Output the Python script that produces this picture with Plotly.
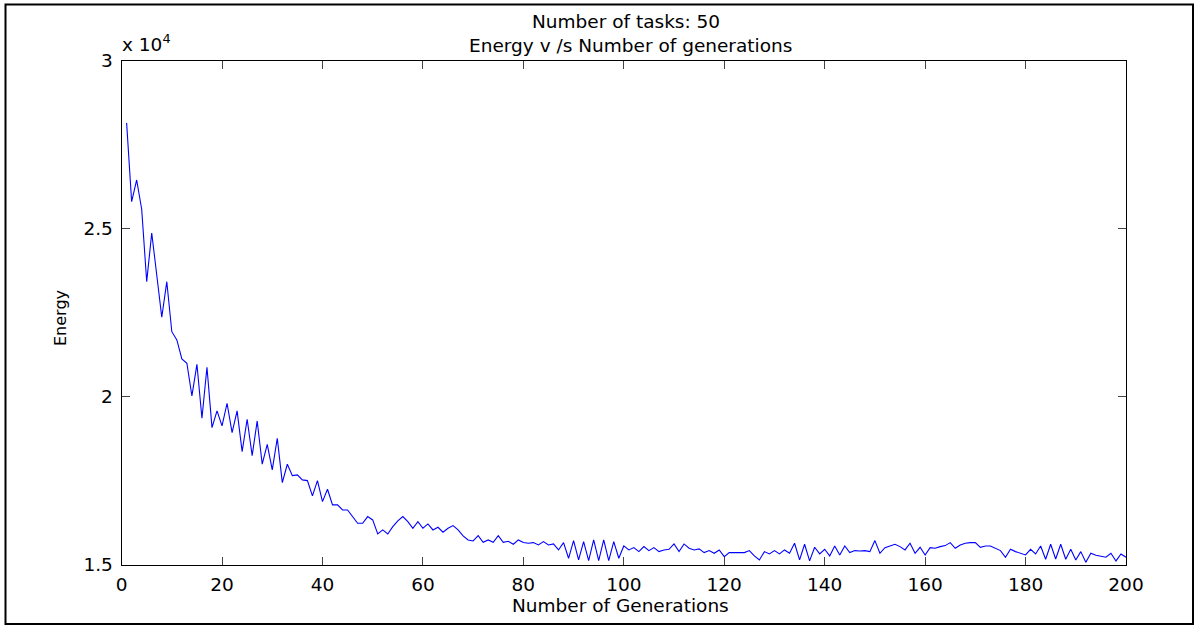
import plotly.graph_objects as go

# ---- data ----
generations = list(range(1, 201))
energy = [
    28150, 25807, 26452, 25581, 23427, 24876, 23625, 22369, 23427, 21940,
    21694, 21128, 21000, 20028, 20970, 19365, 20881, 19087, 19583, 19137,
    19811, 18938, 19583, 18373, 19335, 18254, 19285, 17997, 18591, 17828,
    18770, 17451, 17997, 17659, 17679, 17531, 17511, 17055, 17511, 16886,
    17253, 16787, 16787, 16638, 16638, 16440, 16242, 16242, 16440, 16341,
    15924, 16043, 15924, 16142, 16311, 16440, 16291, 16093, 16291, 16093,
    16222, 16043, 16123, 15974, 16093, 16172, 16043, 15865, 15746, 15716,
    15875, 15676, 15746, 15676, 15875, 15676, 15706, 15617, 15746, 15667,
    15646, 15666, 15597, 15696, 15597, 15626, 15448, 15666, 15200, 15726,
    15151, 15696, 15131, 15745, 15131, 15745, 15131, 15696, 15200, 15567,
    15448, 15517, 15398, 15547, 15428, 15517, 15398, 15448, 15468, 15626,
    15398, 15626, 15498, 15448, 15478, 15369, 15428, 15349, 15448, 15250,
    15369, 15369, 15369, 15369, 15428, 15270, 15151, 15398, 15329, 15428,
    15329, 15448, 15349, 15646, 15151, 15617, 15121, 15527, 15329, 15468,
    15270, 15567, 15299, 15567, 15369, 15428, 15418, 15428, 15398, 15726,
    15349, 15517, 15567, 15617, 15547, 15448, 15646, 15349, 15527, 15299,
    15517, 15498, 15547, 15577, 15666, 15498, 15597, 15646, 15666, 15666,
    15527, 15567, 15567, 15488, 15428, 15230, 15468, 15398, 15349, 15299,
    15468, 15329, 15567, 15170, 15617, 15180, 15617, 15170, 15468, 15151,
    15398, 15081, 15349, 15289, 15260, 15230, 15349, 15121, 15329, 15230,
]

x_tick_vals = [0, 20, 40, 60, 80, 100, 120, 140, 160, 180, 200]
y_tick_vals = [15000, 20000, 25000, 30000]
y_tick_text = ["1.5", "2", "2.5", "3"]

title_line1 = "Number of tasks: 50"
title_line2 = "Energy v /s Number of generations"
x_title = "Number of Generations"
y_title = "Energy"
exponent_label = "x 10<sup>4</sup>"

# ---- layout geometry (pixels) ----
W, H = 1199, 629
ax_left, ax_right = 121.6, 1126.0
ax_top, ax_bottom = 60.7, 565.0

FONT = "DejaVu Sans, Liberation Sans, Arial, sans-serif"
FS = 18.5

fig = go.Figure()
fig.add_trace(go.Scatter(
    x=generations, y=energy, mode="lines",
    line=dict(color="#0000FF", width=1.1),
    showlegend=False, hoverinfo="x+y",
))

axis_common = dict(
    showline=True, linecolor="black", linewidth=1.2,
    mirror="allticks", ticks="inside", ticklen=8, tickwidth=1,
    tickcolor="#444444", showgrid=False, zeroline=False,
    automargin=False,
    tickfont=dict(family=FONT, size=FS, color="black"),
)

fig.update_layout(
    width=W, height=H,
    margin=dict(l=0, r=0, t=0, b=0, pad=0, autoexpand=False),
    paper_bgcolor="white", plot_bgcolor="white",
    xaxis=dict(
        domain=[ax_left / W, ax_right / W],
        range=[0, 200], tickvals=x_tick_vals,
        ticklabelstandoff=3,
        **axis_common,
    ),
    yaxis=dict(
        domain=[1 - ax_bottom / H, 1 - ax_top / H],
        range=[15000, 30000], tickvals=y_tick_vals, ticktext=y_tick_text,
        ticklabelstandoff=4,
        **axis_common,
    ),
)

def ann(text, x, y, xanchor="center", yanchor="middle", angle=0, size=FS):
    fig.add_annotation(
        text=text, x=x / W, y=1 - y / H, xref="paper", yref="paper",
        xanchor=xanchor, yanchor=yanchor, textangle=angle, showarrow=False,
        font=dict(family=FONT, size=size, color="black"),
    )

ann(title_line1, 626, 22)
ann(title_line2, 630, 45)
ann(exponent_label, 120, 43, xanchor="left")
ann(x_title, 620, 605)
ann(y_title, 60, 318, angle=-90, size=16)

# outer frame around the figure
fig.add_shape(
    type="rect", xref="paper", yref="paper",
    x0=5.5 / W, x1=1193 / W, y0=1 - 624 / H, y1=1 - 4.5 / H,
    line=dict(color="black", width=2), fillcolor="rgba(0,0,0,0)",
)

fig.write_html("out.html")
